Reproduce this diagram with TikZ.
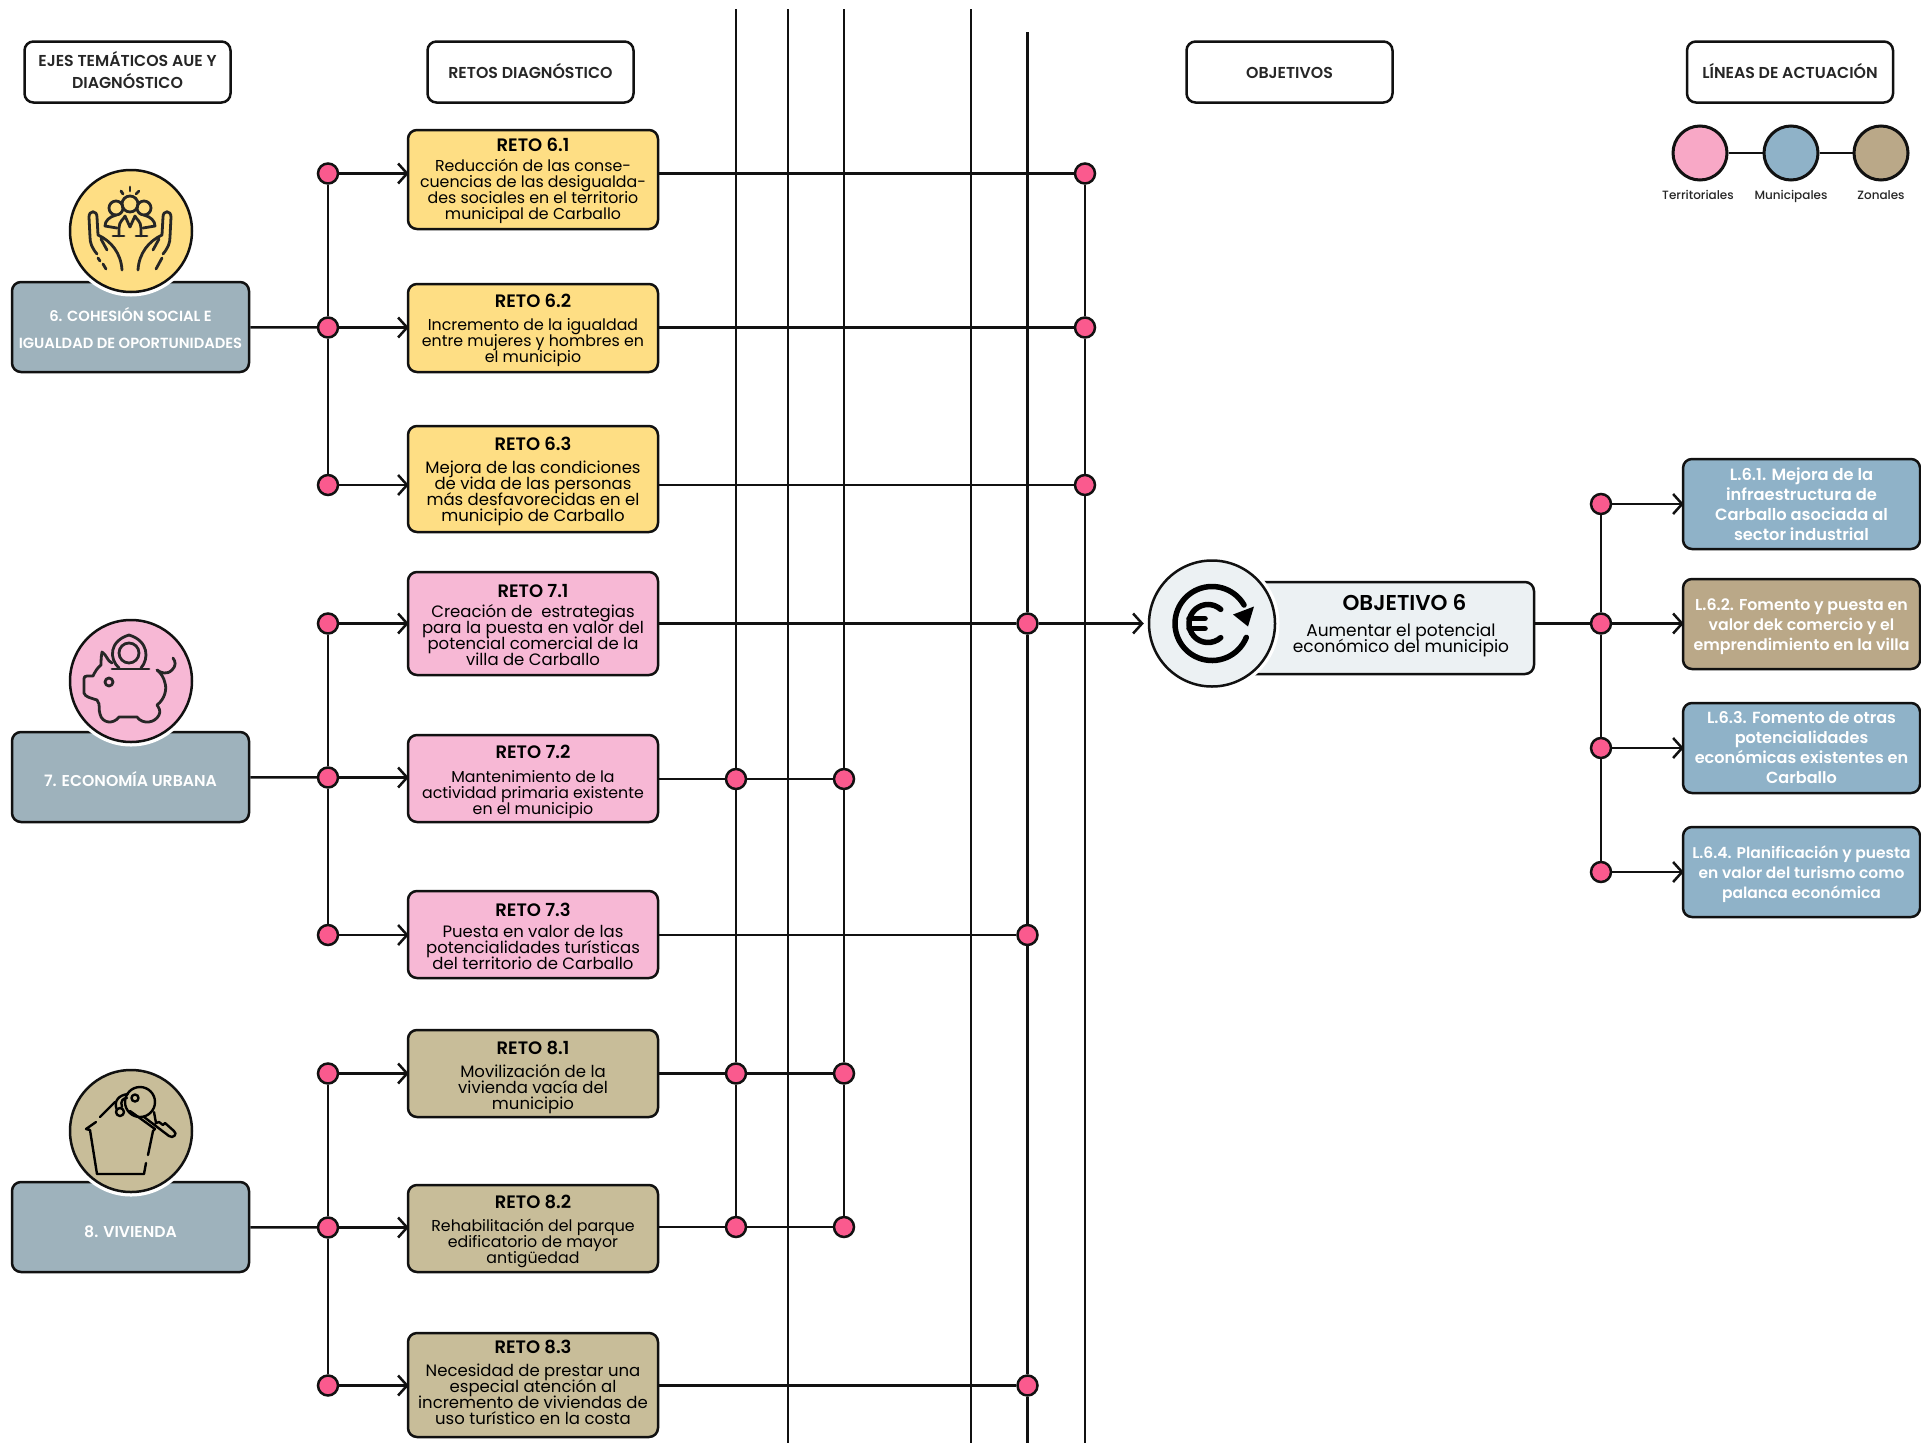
\documentclass[tikz,border=0pt]{standalone}
\usepackage{fontspec}
\setmainfont{Poppins}
\newfontfamily\medio{Poppins Medium}
\newfontfamily\semi{Poppins SemiBold}
\usetikzlibrary{arrows.meta}
\lineskiplimit=-50pt
\definecolor{colnegro}{HTML}{111111}
\definecolor{colpunto}{HTML}{FA5A8E}
\definecolor{colamarillo}{HTML}{FEDE84}
\definecolor{colrosa}{HTML}{F7B8D5}
\definecolor{colcrema}{HTML}{C8BD99}
\definecolor{colpizarra}{HTML}{9EB2BC}
\definecolor{colazul}{HTML}{8FB2C8}
\definecolor{coltostado}{HTML}{BAA888}
\definecolor{colgris}{HTML}{ECF1F3}
\definecolor{colleyenda}{HTML}{F8A8C6}
\tikzset{
  caja/.style={draw=colnegro, line width=2.5pt, rounded corners=9pt, inner sep=0pt, align=center},
  cabecera/.style={caja, fill=white, minimum width=206, minimum height=61, font=\semi\fontsize{15.8}{22}\selectfont, text=black!85},
  reto/.style={caja, minimum width=250, font=\fontsize{16.5}{16}\selectfont, text=black},
  retoestrecho/.style={reto, font=\fontsize{15.8}{16}\selectfont},
  eje/.style={caja, fill=colpizarra, minimum width=237, minimum height=90, text=white, font=\semi\fontsize{15.7}{27}\selectfont},
  linea/.style={caja, minimum width=237, minimum height=90, text=white, font=\semi\fontsize{#1}{20}\selectfont},
  disco/.style={circle, draw=colnegro, line width=2.5pt, inner sep=0pt, minimum size=#1, preaction={draw=white, line width=9pt}},
  punto/.style={circle, draw=colnegro, fill=colpunto, line width=2.5pt, inner sep=0pt, minimum size=20},
  nudo/.style={circle, draw=colnegro, line width=3pt, inner sep=0pt, minimum size=54},
  leyenda/.style={font=\medio\fontsize{12}{14}\selectfont, text=black!85, anchor=base},
  traza/.style={line width=2.5pt, draw=colnegro},
  flecha/.style={traza, -{Straight Barb[length=9pt, width=20pt, line width=2.5pt]}, shorten >=-2pt},
  icono/.style={line width=2.8pt, draw=black!85, line cap=round, line join=round}
}
\newcommand{\titulo}[3]{\rule{0pt}{#3}{\semi\fontsize{18}{19}\selectfont #1}\\[#2]}
\begin{document}
\begin{tikzpicture}[x=1pt, y=-1pt]
\useasboundingbox (0,0) rectangle (1921,1443);

\node[cabecera] (ejes) at (127.5,72) {EJES TEM\'ATICOS AUE Y\\DIAGN\'OSTICO\rule[-3.7pt]{0pt}{0pt}};
\node[cabecera] (retos) at (530.5,72) {RETOS DIAGN\'OSTICO\rule[-2.5pt]{0pt}{0pt}};
\node[cabecera] (objetivos) at (1289.5,72) {\rule{0pt}{13.5pt}OBJETIVOS};
\node[cabecera] (lineas) at (1790,72) {L\'INEAS DE ACTUACI\'ON\rule[-2.5pt]{0pt}{0pt}};

\node[nudo, fill=colleyenda] (territorial) at (1700,153) {};
\node[nudo, fill=colazul] (municipal) at (1791,153) {};
\node[nudo, fill=coltostado] (zonal) at (1881,153) {};
\draw[traza] (territorial) -- (municipal);
\draw[traza] (municipal) -- (zonal);
\node[leyenda] (tterritorial) at (1698,199) {Territoriales};
\node[leyenda] (tmunicipal) at (1791,199) {Municipales};
\node[leyenda] (tzonal) at (1881,199) {Zonales};

\node[eje, font=\semi\fontsize{14.7}{27}\selectfont] (eje6) at (130.5,327) {\rule{0pt}{17pt}6. COHESI\'ON SOCIAL E\\IGUALDAD DE OPORTUNIDADES};
\node[eje] (eje7) at (130.5,777) {\rule{0pt}{20pt}7. ECONOM\'IA URBANA};
\node[eje] (eje8) at (130.5,1227) {\rule{0pt}{21pt}8. VIVIENDA};

\node[disco=122, fill=colamarillo] (disco6) at (131,231) {};
\node[disco=122, fill=colrosa] (disco7) at (131,681) {};
\node[disco=122, fill=colcrema] (disco8) at (131,1131) {};

\begin{scope}[shift={(131,231)}, icono]
\draw (-10,-40) -- (-8,-37);
\draw (-1,-44) -- (-1,-40);
\draw (8,-40) -- (5,-37);
\draw (-1,-27) circle (8);
\draw (-15,-23) circle (7);
\draw (13,-23) circle (7);
\draw (-12,5) -- (-12,-3) .. controls (-12,-10) and (-7,-12) .. (-6,-15) -- (-1,-4) -- (4,-15) .. controls (5,-12) and (10,-10) .. (10,-3) -- (10,5);
\draw (-15,-16) .. controls (-22,-14) and (-26,-10) .. (-26,-5) -- (-14,-3);
\draw (13,-16) .. controls (20,-14) and (24,-10) .. (24,-5) -- (12,-3);
\draw (-18,5) -- (-7,5);
\draw (16,5) -- (5,5);
\draw (-34,23) .. controls (-39,17) and (-41,12) .. (-41,6) -- (-42,-14) .. controls (-42,-21) and (-34,-21) .. (-34,-14) -- (-33,4) .. controls (-20,10) and (-10,22) .. (-9,39);
\draw (-30,8) -- (-24,19);
\draw (-33,27) -- (-31,30);
\draw (-28,33) -- (-25,38);
\draw (32,23) .. controls (37,17) and (39,12) .. (39,6) -- (40,-14) .. controls (40,-21) and (32,-21) .. (32,-14) -- (31,4) .. controls (18,10) and (8,22) .. (7,39);
\draw (28,8) -- (22,19);
\draw (31,27) -- (25,38);
\end{scope}

\begin{scope}[shift={(131,681)}, icono]
\draw (-2,-28) circle (10);
\draw (-12,-13) .. controls (-22,-22) and (-22,-40) .. (-2,-46) .. controls (18,-40) and (18,-22) .. (10,-13);
\draw (-19,-12) -- (18,-12);
\draw (-19,-18) .. controls (-24,-20) and (-24,-26) .. (-29,-29) .. controls (-30,-24) and (-30,-18) .. (-30,-16) .. controls (-34,-13) and (-36,-9) .. (-38,-5) -- (-44,-5) .. controls (-48,-5) and (-47,-1) .. (-47,2) -- (-47,12) .. controls (-46,16) and (-40,17) .. (-34,19) .. controls (-30,24) and (-33,28) .. (-31,33) .. controls (-29,42) and (-18,44) .. (-12,36) -- (6,36) .. controls (12,44) and (24,42) .. (28,34) .. controls (30,30) and (28,27) .. (26,24) .. controls (34,18) and (36,8) .. (34,2) .. controls (33,-3) and (30,-8) .. (26,-11);
\draw (26,-11) .. controls (30,-8) and (36,-6) .. (41,-11) .. controls (45,-15) and (45,-19) .. (42,-23);
\draw (-22,1) circle (4);
\end{scope}

\begin{scope}[shift={(131,1131)}, icono, draw=black, line width=2.4pt]
\draw (-35,-9) -- (-45,-2) -- (-41,-1) -- (-34,43) -- (13,43) -- (15,32);
\draw (-31,-14) -- (-16,-29);
\draw (-1,-20) -- (24,-2) -- (22,0) -- (17,24);
\draw (9,-29) circle (15);
\draw (4,-33) circle (3.5);
\draw (-11,-19) circle (4);
\draw (-14,-21) .. controls (-18,-30) and (-12,-36) .. (-3,-37);
\draw (-9,-24) .. controls (-11,-30) and (-8,-33) .. (-4,-33);
\draw (13,-14) -- (38,5) .. controls (42,8) and (47,3) .. (43,0) -- (34,-8) -- (32,-6) -- (28,-9) -- (25,-8) -- (23,-19);
\end{scope}

\node[retoestrecho, fill=colamarillo, minimum height=99] (reto61) at (533,179.5) {\titulo{RETO 6.1}{4pt}{16.5pt}Reducci\'on de las conse-\\cuencias de las desigualda-\\des sociales en el territorio\\municipal de Carballo};
\node[retoestrecho, fill=colamarillo, minimum height=88] (reto62) at (533,328) {\titulo{RETO 6.2}{7pt}{19pt}Incremento de la igualdad\\entre mujeres y hombres en\\el municipio};
\node[reto, fill=colamarillo, minimum height=106] (reto63) at (533,479) {\titulo{RETO 6.3}{7pt}{18.5pt}Mejora de las condiciones\\de vida de las personas\\m\'as desfavorecidas en el\\municipio de Carballo};
\node[reto, fill=colrosa, minimum height=103] (reto71) at (533,623.5) {\titulo{RETO 7.1}{4pt}{17pt}Creaci\'on de\ \ estrategias\\para la puesta en valor del\\potencial comercial de la\\villa de Carballo};
\node[retoestrecho, fill=colrosa, minimum height=87] (reto72) at (533,778.5) {\titulo{RETO 7.2}{8pt}{21pt}Mantenimiento de la\\actividad primaria existente\\en el municipio};
\node[reto, fill=colrosa, minimum height=87] (reto73) at (533,934.5) {\titulo{RETO 7.3}{5pt}{18pt}Puesta en valor de las\\potencialidades tur\'isticas\\del territorio de Carballo};
\node[reto, fill=colcrema, minimum height=87] (reto81) at (533,1073.5) {\titulo{RETO 8.1}{7pt}{21pt}Movilizaci\'on de la\\vivienda vac\'ia del\\municipio};
\node[retoestrecho, fill=colcrema, minimum height=87] (reto82) at (533,1228.5) {\titulo{RETO 8.2}{7pt}{19pt}Rehabilitaci\'on del parque\\edificatorio de mayor\\antig\"uedad};
\node[reto, fill=colcrema, minimum height=104] (reto83) at (533,1385) {\titulo{RETO 8.3}{7pt}{0pt}Necesidad de prestar una\\especial atenci\'on al\\incremento de viviendas de\\uso tur\'istico en la costa\rule[-5pt]{0pt}{0pt}};

\node[punto] (p61) at (328,173.5) {};
\node[punto] (p62) at (328,327.5) {};
\node[punto] (p63) at (328,485) {};
\node[punto] (p71) at (328,623.5) {};
\node[punto] (p72) at (328,777.5) {};
\node[punto] (p73) at (328,935) {};
\node[punto] (p81) at (328,1073.5) {};
\node[punto] (p82) at (328,1227.5) {};
\node[punto] (p83) at (328,1385.5) {};

\draw[traza] (eje6) -- (p62);
\draw[traza] (eje7) -- (p72);
\draw[traza] (eje8) -- (p82);
\draw[traza] (p61) -- (p62);
\draw[traza] (p62) -- (p63);
\draw[traza] (p71) -- (p72);
\draw[traza] (p72) -- (p73);
\draw[traza] (p81) -- (p82);
\draw[traza] (p82) -- (p83);
\draw[flecha] (p61) -- (reto61.west |- p61);
\draw[flecha] (p62) -- (reto62.west |- p62);
\draw[flecha] (p63) -- (reto63.west |- p63);
\draw[flecha] (p71) -- (reto71.west |- p71);
\draw[flecha] (p72) -- (reto72.west |- p72);
\draw[flecha] (p73) -- (reto73.west |- p73);
\draw[flecha] (p81) -- (reto81.west |- p81);
\draw[flecha] (p82) -- (reto82.west |- p82);
\draw[flecha] (p83) -- (reto83.west |- p83);

\coordinate (sup1) at (736,9);
\coordinate (sup2) at (788,9);
\coordinate (sup3) at (844,9);
\coordinate (sup4) at (971,9);
\coordinate (sup5) at (1027.5,32);
\coordinate (inf2) at (788,1443);
\coordinate (inf4) at (971,1443);
\coordinate (inf5) at (1027.5,1443);
\coordinate (inf6) at (1085,1443);

\node[punto] (a72) at (736,779) {};
\node[punto] (a81) at (736,1073.5) {};
\node[punto] (a82) at (736,1227) {};
\node[punto] (c72) at (844,779) {};
\node[punto] (c81) at (844,1073.5) {};
\node[punto] (c82) at (844,1227) {};
\node[punto] (e71) at (1027.5,623.5) {};
\node[punto] (e73) at (1027.5,935) {};
\node[punto] (e83) at (1027.5,1385.5) {};
\node[punto] (f61) at (1085,173.5) {};
\node[punto] (f62) at (1085,327.5) {};
\node[punto] (f63) at (1085,485) {};

\draw[traza] (sup1) -- (a72);
\draw[traza] (a72) -- (a81);
\draw[traza] (a81) -- (a82);
\draw[traza] (sup2) -- (inf2);
\draw[traza] (sup3) -- (c72);
\draw[traza] (c72) -- (c81);
\draw[traza] (c81) -- (c82);
\draw[traza] (sup4) -- (inf4);
\draw[traza] (sup5) -- (e71);
\draw[traza] (e71) -- (e73);
\draw[traza] (e73) -- (e83);
\draw[traza] (e83) -- (inf5);
\draw[traza] (f61) -- (f62);
\draw[traza] (f62) -- (f63);
\draw[traza] (f63) -- (inf6);

\draw[traza] (reto61.east |- f61) -- (f61);
\draw[traza] (reto62.east |- f62) -- (f62);
\draw[traza] (reto63.east |- f63) -- (f63);
\draw[traza] (reto71.east |- e71) -- (e71);
\draw[traza] (reto72.east |- a72) -- (a72);
\draw[traza] (a72) -- (c72);
\draw[traza] (reto73.east |- e73) -- (e73);
\draw[traza] (reto81.east |- a81) -- (a81);
\draw[traza] (a81) -- (c81);
\draw[traza] (reto82.east |- a82) -- (a82);
\draw[traza] (a82) -- (c82);
\draw[traza] (reto83.east |- e83) -- (e83);

\node[caja, fill=colgris, minimum width=322, minimum height=92] (objetivo) at (1373,628) {};
\node[font=\fontsize{17}{16}\selectfont, align=center, text=black] (tobjetivo) at (1401,625.5) {{\semi\fontsize{21.5}{19}\selectfont\hspace*{7pt}OBJETIVO 6}\\[10pt]Aumentar el potencial\\econ\'omico del municipio};
\node[disco=126, fill=colgris] (discoobj) at (1212,623.5) {};
\draw[flecha, shorten >=4pt] (e71) -- (discoobj);
\begin{scope}[shift={(1212,623.5)}, line width=5.5pt, draw=black, line cap=round]
\draw (0,0) ++(22:37) arc (22:330:37);
\fill[black] (42,-17) -- (21,-9) -- (36,3) -- cycle;
\draw (-4,0) ++(48:19) arc (48:312:19);
\draw (-23,-5) -- (-7,-5);
\draw (-23,5) -- (-7,5);
\end{scope}

\node[linea=16.3, fill=colazul] (l61) at (1801.5,504) {\rule{0pt}{14pt}L.6.1. Mejora de la\\infraestructura de\\Carballo asociada al\\sector industrial};
\node[linea=15.8, fill=coltostado] (l62) at (1801.5,624) {\rule{0pt}{17pt}L.6.2. Fomento y puesta en\\valor dek comercio y el\\emprendimiento en la villa};
\node[linea=16.1, fill=colazul] (l63) at (1801.5,748) {L.6.3. Fomento de otras\\potencialidades\\econ\'omicas existentes en\\Carballo};
\node[linea=15.5, fill=colazul] (l64) at (1801.5,872) {\rule{0pt}{17pt}L.6.4. Planificaci\'on y puesta\\en valor del turismo como\\palanca econ\'omica};

\node[punto] (q61) at (1601,504) {};
\node[punto] (q62) at (1601,623.5) {};
\node[punto] (q63) at (1601,748) {};
\node[punto] (q64) at (1601,872) {};
\draw[traza] (objetivo.east |- q62) -- (q62);
\draw[traza] (q61) -- (q62);
\draw[traza] (q62) -- (q63);
\draw[traza] (q63) -- (q64);
\draw[flecha] (q61) -- (l61);
\draw[flecha] (q62) -- (l62.west |- q62);
\draw[flecha] (q63) -- (l63);
\draw[flecha] (q64) -- (l64);
\end{tikzpicture}
\end{document}
